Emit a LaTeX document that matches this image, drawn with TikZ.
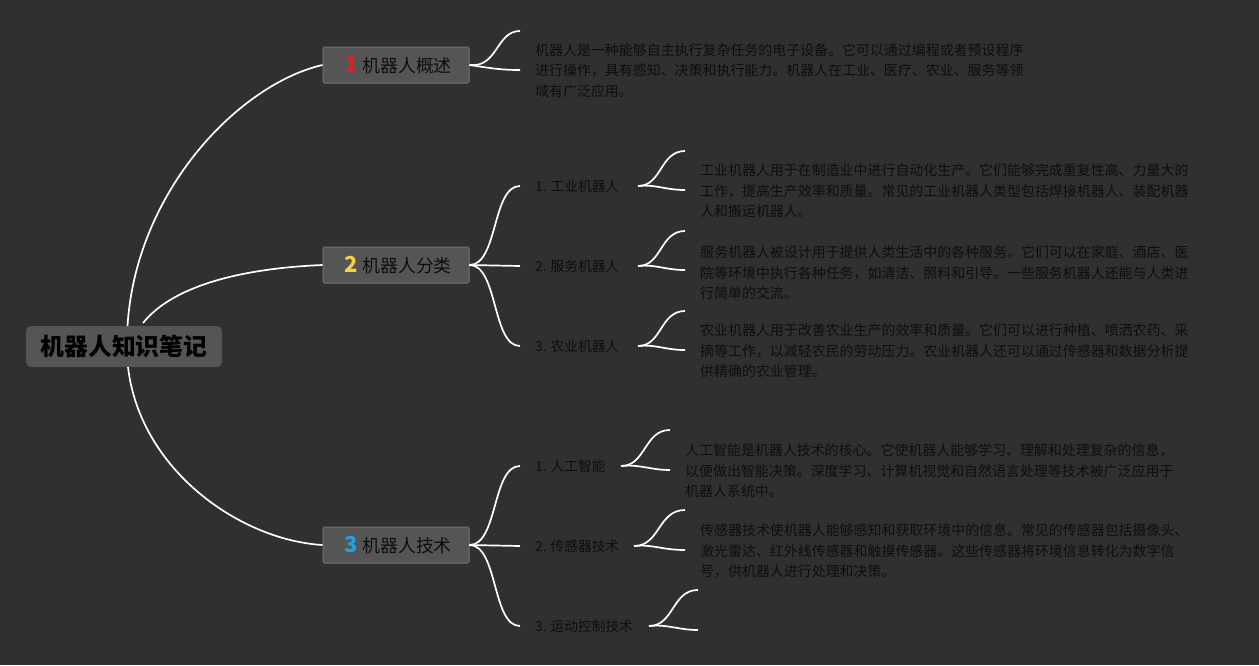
\documentclass[tikz,border=0pt]{standalone}
\usepackage{fontspec}
\newfontfamily\cjk{Noto Sans CJK SC}
\setmainfont{Noto Sans CJK SC}
\definecolor{bg}{HTML}{303030}
\definecolor{nodefill}{HTML}{555555}
\definecolor{nodeborder}{HTML}{5E7E70}
\definecolor{txt}{HTML}{0E0E0E}
\definecolor{numred}{HTML}{E01E2E}
\definecolor{numyellow}{HTML}{F2D24A}
\definecolor{numblue}{HTML}{2A9DE0}
\begin{document}
\begin{tikzpicture}[x=1pt,y=-1pt,
  rootbox/.style={fill=nodefill,rounded corners=5pt,minimum width=196pt,minimum height=41pt,inner sep=0pt,font=\cjk\fontsize{23.8}{26}\selectfont\bfseries,text=black},
  branchbox/.style={fill=nodefill,draw=nodeborder,line width=1pt,rounded corners=1.5pt,minimum width=146pt,minimum height=36pt,inner sep=0pt,font=\cjk\fontsize{17.8}{20}\selectfont,text=txt},
  childlabel/.style={anchor=west,inner sep=0pt,font=\cjk\fontsize{13.7}{16}\selectfont,text=txt},
  desc/.style={anchor=west,inner sep=0pt,align=left,font=\cjk\fontsize{13.95}{20.4}\selectfont,text=txt},
  link/.style={draw=white,line width=1.7pt}
]
\fill[bg] (0,0) rectangle (1259,665);

% root
\node[rootbox] (root) at (124,346.5) {机器人知识笔记};

% branches
\node[branchbox] (b1) at (396,65) {\hspace{4pt}{\fontsize{22}{22}\selectfont\bfseries\color{numred}1}\hspace{5pt}机器人概述};
\node[branchbox] (b2) at (396,265) {\hspace{4pt}{\fontsize{22}{22}\selectfont\bfseries\color{numyellow}2}\hspace{5pt}机器人分类};
\node[branchbox] (b3) at (396,545) {\hspace{4pt}{\fontsize{22}{22}\selectfont\bfseries\color{numblue}3}\hspace{5pt}机器人技术};

% root to branches
\coordinate (r1) at (127.5,326);
\coordinate (r2) at (143,323);
\coordinate (r3) at (128,367);
\draw[link] (r1) .. controls (136,190) and (240,84) .. (b1.west);
\draw[link] (r2) .. controls (175,283) and (250,268) .. (b2.west);
\draw[link] (r3) .. controls (140,470) and (240,540) .. (b3.west);

% branch 1 description
\coordinate (d1a) at (520,31);
\coordinate (d1b) at (520,70);
\draw[link] (b1.east) .. controls (498,68) and (496,31) .. (d1a);
\draw[link] (b1.east) .. controls (490,68) and (500,70) .. (d1b);
\node[desc] (t1) at (535,70.5) {机器人是一种能够自主执行复杂任务的电子设备。它可以通过编程或者预设程序\\进行操作，具有感知、决策和执行能力。机器人在工业、医疗、农业、服务等领\\域有广泛应用。};

% branch 2 children
\node[childlabel] (c21) at (535,186) {1. 工业机器人};
\node[childlabel] (c22) at (535,266) {2. 服务机器人};
\node[childlabel] (c23) at (535,346) {3. 农业机器人};
\coordinate (c21in) at (520,186);
\coordinate (c22in) at (520,266);
\coordinate (c23in) at (520,346);
\draw[link] (b2.east) .. controls (498,265) and (492,186) .. (c21in);
\draw[link] (b2.east) -- (c22in);
\draw[link] (b2.east) .. controls (498,265) and (492,346) .. (c23in);

% branch 2 descriptions
\coordinate (e21) at (638,186);
\coordinate (e21a) at (685,151);
\coordinate (e21b) at (685,190);
\draw[link] (e21) .. controls (662,186) and (660,151) .. (e21a);
\draw[link] (e21) .. controls (655,184) and (665,190) .. (e21b);
\node[desc] (t21) at (700,191) {工业机器人用于在制造业中进行自动化生产。它们能够完成重复性高、力量大的\\工作，提高生产效率和质量。常见的工业机器人类型包括焊接机器人、装配机器\\人和搬运机器人。};

\coordinate (e22) at (638,266);
\coordinate (e22a) at (685,231);
\coordinate (e22b) at (685,270);
\draw[link] (e22) .. controls (662,266) and (660,231) .. (e22a);
\draw[link] (e22) .. controls (655,264) and (665,270) .. (e22b);
\node[desc] (t22) at (700,273) {服务机器人被设计用于提供人类生活中的各种服务。它们可以在家庭、酒店、医\\院等环境中执行各种任务，如清洁、照料和引导。一些服务机器人还能与人类进\\行简单的交流。};

\coordinate (e23) at (638,346);
\coordinate (e23a) at (685,311);
\coordinate (e23b) at (685,350);
\draw[link] (e23) .. controls (662,346) and (660,311) .. (e23a);
\draw[link] (e23) .. controls (655,344) and (665,350) .. (e23b);
\node[desc] (t23) at (700,351) {农业机器人用于改善农业生产的效率和质量。它们可以进行种植、喷洒农药、采\\摘等工作，以减轻农民的劳动压力。农业机器人还可以通过传感器和数据分析提\\供精确的农业管理。};

% branch 3 children
\node[childlabel] (c31) at (535,466) {1. 人工智能};
\node[childlabel] (c32) at (535,546) {2. 传感器技术};
\node[childlabel] (c33) at (535,626) {3. 运动控制技术};
\coordinate (c31in) at (520,466);
\coordinate (c32in) at (520,546);
\coordinate (c33in) at (520,626);
\draw[link] (b3.east) .. controls (498,545) and (492,466) .. (c31in);
\draw[link] (b3.east) -- (c32in);
\draw[link] (b3.east) .. controls (498,545) and (492,626) .. (c33in);

% branch 3 descriptions
\coordinate (e31) at (621,466);
\coordinate (e31a) at (670,430);
\coordinate (e31b) at (670,470);
\draw[link] (e31) .. controls (646,466) and (644,430) .. (e31a);
\draw[link] (e31) .. controls (640,464) and (650,470) .. (e31b);
\node[desc] (t31) at (685,471) {人工智能是机器人技术的核心。它使机器人能够学习、理解和处理复杂的信息，\\以便做出智能决策。深度学习、计算机视觉和自然语言处理等技术被广泛应用于\\机器人系统中。};

\coordinate (e32) at (634,546);
\coordinate (e32a) at (685,510);
\coordinate (e32b) at (685,550);
\draw[link] (e32) .. controls (660,546) and (658,510) .. (e32a);
\draw[link] (e32) .. controls (652,544) and (662,550) .. (e32b);
\node[desc] (t32) at (700,551) {传感器技术使机器人能够感知和获取环境中的信息。常见的传感器包括摄像头、\\激光雷达、红外线传感器和触摸传感器。这些传感器将环境信息转化为数字信\\号，供机器人进行处理和决策。};

\coordinate (e33) at (649,626);
\coordinate (e33a) at (698,590);
\coordinate (e33b) at (698,630);
\draw[link] (e33) .. controls (674,626) and (672,590) .. (e33a);
\draw[link] (e33) .. controls (668,624) and (678,630) .. (e33b);
\end{tikzpicture}
\end{document}
